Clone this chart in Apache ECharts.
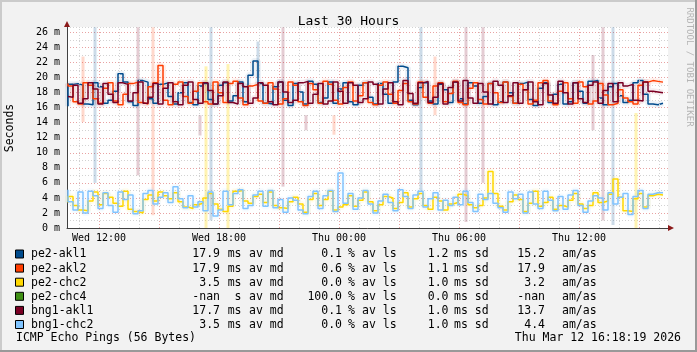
<!DOCTYPE html>
<html>
<head>
<meta charset="utf-8">
<script src="https://cdn.jsdelivr.net/npm/echarts@6/dist/echarts.min.js"></script>
<style>
  html, body { margin: 0; padding: 0; background: #f2f2f2; }
  #chart { width: 697px; height: 352px; }
</style>
</head>
<body>
<div id="chart"></div>
<script>
// sampling: one value every 15 min, first sample at Wed 10:27 (hours since Wed 00:00)
const startHour = 10.45;
const stepHour = 0.25;

// median rtt in ms
const pe2Akl1 = [
  16.2, 19.1, 19.2, 19.0, 16.5, 16.4, 19.3, 18.8, 16.6, 17.0,
  18.2, 20.5, 19.4, 16.8, 16.3, 19.6, 19.4, 17.2, 16.6, 19.1,
  19.3, 17.5, 16.5, 18.0, 19.3, 16.7, 16.4, 18.9, 19.2, 17.1,
  16.5, 19.0, 19.3, 16.9, 17.6, 19.4, 16.8, 20.3, 22.2, 19.2,
  16.6, 16.5, 18.8, 19.4, 17.0, 16.3, 19.2, 18.1, 16.5, 19.5,
  19.1, 16.7, 17.3, 19.4, 16.6, 18.5, 19.3, 16.8, 16.4, 19.0,
  19.3, 17.4, 16.5, 19.2, 17.8, 16.6, 19.4, 21.5, 21.3, 17.0,
  16.4, 18.7, 19.3, 16.9, 16.5, 19.1, 18.4, 16.7, 19.4, 17.2,
  16.5, 19.3, 18.9, 16.6, 17.5, 19.2, 16.4, 16.8, 19.4, 18.0,
  16.6, 19.2, 19.4, 17.1, 16.3, 18.6, 19.3, 16.7, 17.8, 19.1,
  16.5, 16.8, 19.3, 18.2, 16.6, 19.5, 19.6, 17.3, 16.4, 18.8,
  19.2, 17.6, 16.7, 17.0, 19.3, 19.6, 17.8, 16.5, 16.4, 16.6
];
const pe2Akl2 = [
  19.2, 18.9, 16.8, 16.5, 19.3, 19.0, 17.2, 16.6, 18.6, 19.3,
  16.9, 16.4, 17.8, 19.2, 19.4, 16.7, 16.5, 18.8, 19.3, 21.6,
  17.0, 16.4, 19.1, 19.4, 17.5, 16.6, 18.2, 19.3, 16.8, 16.5,
  19.4, 18.0, 16.7, 19.2, 19.5, 17.3, 16.4, 18.9, 19.1, 16.9,
  16.6, 19.3, 18.5, 16.5, 17.2, 19.4, 19.0, 16.8, 16.3, 19.2,
  18.4, 16.6, 19.5, 19.1, 17.0, 16.5, 18.7, 19.4, 16.9, 17.6,
  19.3, 16.7, 16.4, 19.0, 19.4, 17.8, 16.6, 18.3, 19.2, 16.8,
  16.5, 19.4, 17.4, 16.6, 18.9, 19.3, 16.8, 17.9, 19.5, 16.7,
  16.4, 18.6, 19.3, 17.1, 16.5, 19.2, 18.0, 16.7, 19.4, 17.5,
  16.6, 19.1, 18.4, 16.5, 17.0, 19.3, 19.6, 16.9, 16.4, 18.2,
  19.3, 17.2, 16.6, 19.4, 18.8, 16.5, 16.9, 19.2, 17.7, 16.4,
  16.6, 18.4, 17.3, 16.8, 16.5, 19.0, 19.4, 19.6, 19.5, 19.4
];
const pe2Chc2 = [
  3.4, 4.2, 3.0, 2.4, 2.3, 3.6, 4.8, 3.1, 4.6, 4.1,
  3.3, 2.9, 4.9, 2.5, 2.2, 2.0, 3.8, 4.4, 3.6, 4.8,
  4.3, 3.9, 4.7, 3.5, 2.8, 2.6, 3.1, 3.3, 4.0, 4.6,
  3.2, 2.5, 2.2, 2.9, 4.9, 5.0, 3.6, 3.3, 4.2, 4.5,
  3.4, 4.8, 3.0, 2.7, 2.6, 3.5, 4.1, 3.2, 2.1, 3.8,
  4.6, 3.0, 3.8, 4.9, 2.4, 2.8, 3.1, 4.3, 2.9, 3.7,
  4.8, 3.5, 2.3, 3.1, 4.2, 4.0, 2.6, 3.4, 4.7, 2.8,
  3.9, 4.6, 3.0, 2.5, 4.1, 3.6, 2.4, 3.2, 3.4, 4.5,
  4.3, 3.1, 2.7, 3.0, 4.0, 7.5, 4.6, 2.9, 2.4, 3.5,
  4.4, 3.8, 2.2, 3.3, 4.9, 2.9, 3.4, 4.1, 2.5, 3.0,
  2.8, 3.7, 4.6, 3.2, 2.6, 3.0, 4.7, 3.4, 3.6, 4.5,
  6.5, 4.1, 2.3, 2.2, 3.9, 4.6, 2.8, 4.3, 4.5, 4.4
];
const pe2Chc4 = []; // 100% loss, no samples
const bng1Akl1 = [
  17.5, 17.4, 19.0, 16.6, 17.2, 19.3, 18.5, 16.5, 19.2, 17.8,
  16.7, 19.3, 19.1, 16.9, 18.0, 19.4, 16.6, 17.4, 19.2, 16.5,
  18.6, 19.3, 16.8, 16.4, 19.0, 19.4, 17.1, 16.6, 19.3, 18.3,
  16.5, 17.6, 19.4, 16.7, 16.5, 19.2, 18.8, 16.6, 17.3, 19.3,
  19.0, 16.8, 16.4, 19.4, 18.1, 16.7, 17.0, 19.3, 19.5, 16.6,
  17.8, 19.2, 16.5, 16.9, 19.4, 18.2, 16.6, 19.3, 19.0, 16.7,
  17.2, 19.4, 19.1, 16.5, 18.5, 19.3, 16.8, 16.4, 19.6, 17.9,
  16.6, 19.3, 19.5, 16.7, 17.4, 19.2, 16.5, 18.7, 19.4, 16.9,
  19.6, 17.3, 16.6, 19.2, 18.1, 16.5, 19.5, 19.0, 16.7, 17.6,
  19.3, 16.6, 18.4, 19.4, 16.8, 16.4, 19.2, 17.7, 16.6, 19.5,
  18.0, 16.5, 19.3, 17.2, 16.7, 19.0, 19.4, 16.6, 18.3, 19.2,
  16.8, 19.3, 18.9, 19.1, 17.0, 16.9, 19.4, 18.2, 18.1, 18.0
];
const bng1Chc2 = [
  5.1, 3.5, 2.4, 4.8, 2.0, 4.9, 4.3, 2.6, 4.7, 3.0,
  2.1, 4.8, 3.8, 4.4, 1.9, 2.3, 4.6, 5.0, 3.2, 4.1,
  4.7, 3.4, 5.5, 3.9, 2.7, 4.3, 2.8, 3.5, 2.3, 4.8,
  1.6, 2.4, 4.9, 3.1, 4.6, 5.1, 2.6, 3.0, 4.4, 4.9,
  2.9, 5.0, 2.7, 3.8, 2.1, 4.0, 3.7, 2.4, 1.9, 4.2,
  4.9, 2.6, 4.3, 5.0, 2.2, 7.3, 3.3, 4.6, 2.5, 4.0,
  5.0, 3.2, 2.0, 3.6, 4.5, 3.4, 2.3, 5.1, 4.2, 2.6,
  4.4, 4.9, 2.8, 3.9, 4.7, 2.4, 3.7, 3.0, 4.1, 3.1,
  4.9, 3.4, 2.2, 4.5, 3.8, 4.6, 3.3, 2.7, 2.1, 4.8,
  3.9, 4.5, 2.0, 4.8, 3.2, 2.6, 4.9, 3.7, 2.3, 4.2,
  2.5, 4.4, 5.0, 3.0, 2.1, 3.6, 4.3, 4.0, 2.4, 4.7,
  3.2, 4.1, 4.6, 1.8, 4.2, 5.0, 2.6, 4.5, 4.7, 4.7
];

// pale loss / spread bars: [hour, low ms, high ms]
const pe2Akl1Bars = [[11.8, 6, 26.7], [17.6, 1, 26.7], [19.95, 20, 24.8], [28.1, 5, 26.7], [37.7, 0.4, 26.7]];
const pe2Akl2Bars = [[11.2, 14.1, 22.8], [14.7, 1.7, 26.7], [23.75, 12.4, 15], [28.8, 15, 22.8]];
const pe2Chc2Bars = [[17.35, 0, 21.5], [18.45, 0, 21.8], [38.85, 0, 15.3]];
const bng1Akl1Bars = [[13.95, 7, 26.7], [17.05, 12.3, 15], [21.2, 5.5, 26.7], [22.35, 13, 15],
  [30.35, 0.8, 26.7], [31.2, 6, 26.7], [36.7, 13, 23], [37.2, 1, 26.7]];

// legend table
const hostNames = ['pe2-akl1', 'pe2-akl2', 'pe2-chc2', 'pe2-chc4', 'bng1-akl1', 'bng1-chc2'];
const hostColors = ['#004b8d', '#ff3d00', '#ffd800', '#3f8f14', '#7a0024', '#80c4ff'];
const avMedian = ['17.9', '17.9', '3.5', '-nan', '17.7', '3.5'];
const avMedianUnit = ['ms', 'ms', 'ms', 's', 'ms', 'ms'];
const avLoss = ['0.1', '0.6', '0.0', '100.0', '0.1', '0.0'];
const avSd = ['1.2', '1.1', '1.0', '0.0', '1.0', '1.0'];
const amAs = ['15.2', '17.9', '3.2', '-nan', '13.7', '4.4'];

const timeLabelHours = [12, 18, 24, 30, 36];

const FONT = 'DejaVu Sans Mono';
const series = [pe2Akl1, pe2Akl2, pe2Chc2, pe2Chc4, bng1Akl1, bng1Chc2];
const bars = [pe2Akl1Bars, pe2Akl2Bars, pe2Chc2Bars, [], bng1Akl1Bars, []];

const toPoints = (arr) => arr.map((v, i) => [startHour + i * stepHour, v]);

// grid lines, every hour, red every 3 hours
const vLines = [];
for (let h = 11; h <= 40; h++) {
  vLines.push({
    xAxis: h,
    lineStyle: { color: h % 3 === 0 ? '#e8a2a2' : '#d2d2d2', type: [1, 2], width: 1 }
  });
}

const chartSeries = [{
  type: 'line',
  data: [],
  silent: true,
  z: 1,
  markLine: { silent: true, symbol: 'none', label: { show: false }, animation: false, data: vLines }
}];

bars.forEach((b, k) => {
  if (!b.length) return;
  chartSeries.push({
    type: 'custom',
    z: 2,
    silent: true,
    data: b,
    encode: { x: 0, y: [1, 2] },
    renderItem: (params, api) => {
      const top = api.coord([api.value(0), api.value(2)]);
      const bot = api.coord([api.value(0), api.value(1)]);
      return {
        type: 'rect',
        shape: { x: top[0] - 1.5, y: top[1], width: 3, height: bot[1] - top[1] },
        style: { fill: hostColors[k], opacity: k === 2 ? 0.3 : 0.2 }
      };
    }
  });
});

series.forEach((s, k) => {
  if (!s.length) return;
  // pale halo
  chartSeries.push({
    type: 'line', step: 'start', symbol: 'none', silent: true, z: 3,
    data: toPoints(s),
    lineStyle: { color: hostColors[k], width: 6, opacity: 0.07 }
  });
});
series.forEach((s, k) => {
  if (!s.length) return;
  chartSeries.push({
    name: hostNames[k],
    type: 'line', step: 'start', symbol: 'none', z: 4 + k,
    data: toPoints(s),
    lineStyle: { color: hostColors[k], width: 1.5 }
  });
});

// legend rows and texts
const txt = (x, y, text, align, extra) => Object.assign({
  type: 'text', x, y,
  style: { text, font: '11.5px "' + FONT + '"', fill: '#000', align: align || 'left', verticalAlign: 'middle' }
}, extra || {});

const graphics = [
  // frame
  { type: 'rect', shape: { x: 0, y: 0, width: 697, height: 2 }, style: { fill: '#cbcbcb' } },
  { type: 'rect', shape: { x: 0, y: 0, width: 2, height: 352 }, style: { fill: '#cbcbcb' } },
  { type: 'rect', shape: { x: 0, y: 350, width: 697, height: 2 }, style: { fill: '#999' } },
  { type: 'rect', shape: { x: 695, y: 0, width: 2, height: 352 }, style: { fill: '#999' } },
  // axis arrows
  { type: 'polygon', shape: { points: [[64, 27], [70, 27], [67, 21]] }, style: { fill: '#8b1a1a' }, z: 20 },
  { type: 'polygon', shape: { points: [[668, 225], [668, 231], [674, 228]] }, style: { fill: '#8b1a1a' }, z: 20 },
  {
    type: 'text', x: 10, y: 128, rotation: Math.PI / 2,
    style: { text: 'Seconds', font: '11.5px "' + FONT + '"', fill: '#000', align: 'center', verticalAlign: 'middle' }
  },
  {
    type: 'text', x: 689, y: 67, rotation: -Math.PI / 2,
    style: { text: 'RRDTOOL / TOBI OETIKER', font: '9px "' + FONT + '"', fill: '#b4b4b4', align: 'center', verticalAlign: 'middle' }
  }
];

hostNames.forEach((name, k) => {
  const y = 254.5 + k * 14.1;
  graphics.push({
    type: 'rect', shape: { x: 15.5, y: y - 4.5, width: 8, height: 8 },
    style: { fill: hostColors[k], stroke: '#000', lineWidth: 1 }
  });
  graphics.push(txt(31, y, name));
  graphics.push(txt(220, y, avMedian[k], 'right'));
  graphics.push(txt(241.5, y, avMedianUnit[k], 'right'));
  graphics.push(txt(249, y, 'av md'));
  graphics.push(txt(342, y, avLoss[k], 'right'));
  graphics.push(txt(348, y, '%'));
  graphics.push(txt(362, y, 'av ls'));
  graphics.push(txt(448.5, y, avSd[k], 'right'));
  graphics.push(txt(454, y, 'ms sd'));
  graphics.push(txt(545, y, amAs[k], 'right'));
  graphics.push(txt(562, y, 'am/as'));
});
graphics.push(txt(16, 338.5, 'ICMP Echo Pings (56 Bytes)'));
graphics.push(txt(681, 338.5, 'Thu Mar 12 16:18:19 2026', 'right'));

const chart = echarts.init(document.getElementById('chart'), null, { renderer: 'canvas' });
chart.setOption({
  animation: false,
  backgroundColor: '#f2f2f2',
  title: {
    text: 'Last 30 Hours',
    left: 'center',
    top: 10,
    textStyle: { fontFamily: FONT, fontSize: 13, fontWeight: 'normal', color: '#000' }
  },
  grid: {
    left: 67, right: 29, top: 27, bottom: 124,
    show: true, backgroundColor: '#fff', borderWidth: 0
  },
  xAxis: {
    type: 'value',
    min: 10.4,
    max: 40.45,
    axisLine: { show: true, lineStyle: { color: '#404040', width: 1 } },
    axisTick: { show: false },
    splitLine: { show: false },
    axisLabel: {
      customValues: timeLabelHours,
      margin: 5,
      fontFamily: FONT,
      fontSize: 10,
      color: '#000',
      formatter: (v) => (v < 24 ? 'Wed ' : 'Thu ') + String(v % 24).padStart(2, '0') + ':00'
    }
  },
  yAxis: {
    type: 'value',
    min: 0,
    max: 26.73,
    interval: 1,
    axisLine: { show: true, lineStyle: { color: '#404040', width: 1 } },
    axisTick: { show: false },
    axisLabel: {
      margin: 7,
      fontFamily: FONT,
      fontSize: 10,
      color: '#000',
      showMaxLabel: false,
      formatter: (v) => (Math.abs(v % 2) < 1e-9 ? v + ' m' : '')
    },
    splitLine: { show: true, lineStyle: { color: ['#e8a2a2', '#d2d2d2'], type: [1, 2], width: 1 } }
  },
  series: chartSeries,
  graphic: graphics
});
</script>
</body>
</html>
